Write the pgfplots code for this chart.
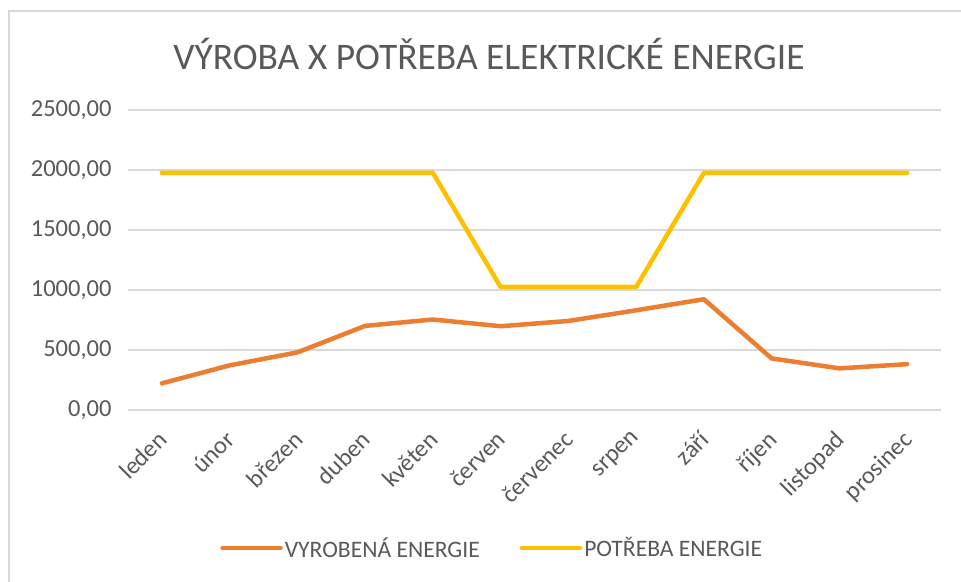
\documentclass[border=0pt]{standalone}
\usepackage{pgfplots}
\pgfplotsset{compat=1.18}
\usepackage{fontspec}
\setmainfont{Carlito}
\definecolor{cOrange}{HTML}{ED7D31}
\definecolor{cYellow}{HTML}{FFC000}
\definecolor{cText}{HTML}{595959}
\definecolor{cGrid}{HTML}{D9D9D9}
\pgfplotstableread{
x y
0 222
1 372
2 480
3 701
4 754
5 698
6 742
7 831
8 923
9 430
10 347
11 382
}\vyroba
\pgfplotstableread{
x y
0 1976
1 1976
2 1976
3 1976
4 1976
5 1025
6 1025
7 1025
8 1976
9 1976
10 1976
11 1976
}\potreba
\begin{document}
\begin{tikzpicture}
\path[use as bounding box] (0pt,0pt) rectangle (961pt,581pt);
\draw[cGrid, line width=1.5pt] (9pt,-5pt) -- (9pt,570pt) -- (970pt,570pt);
\node[text=cText, font=\fontsize{37.5}{42}\selectfont] at (489pt,527pt) {VÝROBA X POTŘEBA ELEKTRICKÉ ENERGIE};
\begin{axis}[
  at={(128pt,171pt)}, anchor=south west,
  width=813pt, height=300pt, scale only axis,
  xmin=-0.5, xmax=11.5, ymin=0, ymax=2500,
  ytick={0,500,1000,1500,2000,2500},
  xtick={0,...,11},
  xticklabels={leden,únor,březen,duben,květen,červen,červenec,srpen,září,říjen,listopad,prosinec},
  axis line style={draw=none},
  tick style={draw=none},
  ymajorgrids, grid style={cGrid, line width=1.3pt},
  /pgf/number format/assume math mode=true,
  /pgf/number format/fixed,
  /pgf/number format/fixed zerofill,
  /pgf/number format/precision=2,
  /pgf/number format/use comma,
  /pgf/number format/1000 sep={},
  ticklabel style={text=cText, font=\fontsize{24.5}{28}\selectfont},
  yticklabel style={xshift=-13pt},
  xticklabel style={rotate=45, anchor=north east, xshift=-14pt, yshift=-6.5pt},
  legend style={draw=none, fill=none, at={(0.448,-0.46)}, anchor=center,
    font=\fontsize{23.6}{27}\selectfont, text=cText,
    /tikz/every even column/.append style={column sep=38pt}},
  legend columns=2,
  legend image code/.code={\draw[#1, line cap=round] (0pt,0pt) -- (58pt,0pt);},
  every axis plot/.append style={line width=4.5pt, line cap=round, line join=round},
  clip=false,
]
\addplot[cOrange] table[x=x,y=y] {\vyroba};
\addlegendentry{VYROBENÁ ENERGIE}
\addplot[cYellow] table[x=x,y=y] {\potreba};
\addlegendentry{POTŘEBA ENERGIE}
\end{axis}
\end{tikzpicture}
\end{document}
